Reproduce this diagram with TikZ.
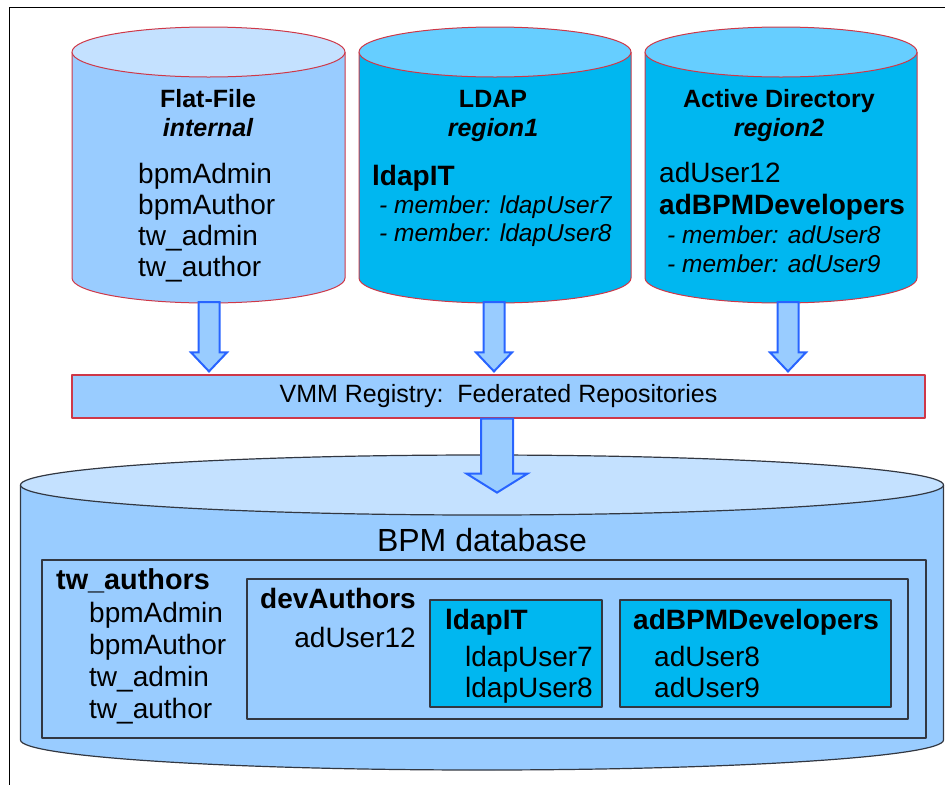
\documentclass[tikz,border=0pt]{standalone}
\usepackage{fontspec}
\setmainfont{Liberation Sans}
\usetikzlibrary{calc, positioning}

\definecolor{redline}{RGB}{206,56,72}
\definecolor{paleblue}{RGB}{153,204,255}
\definecolor{lidpale}{RGB}{196,225,255}
\definecolor{skyblue}{RGB}{0,183,240}
\definecolor{lidsky}{RGB}{102,206,255}
\definecolor{arrowblue}{RGB}{40,100,255}
\definecolor{darkline}{RGB}{50,55,65}

\newcommand{\fsz}[1]{\fontsize{#1}{#1}\selectfont}

% name, centre x, half width, lid y, base y, depth, body fill, lid fill
\newcommand{\dbcyl}[8]{%
  \filldraw[fill=#7] (#2-#3,#4) -- (#2-#3,#5)
    arc[start angle=180, end angle=0, x radius=#3, y radius=#6] -- (#2+#3,#4);
  \filldraw[fill=#8] (#2,#4) ellipse[x radius=#3, y radius=#6];
  \coordinate (#1) at (#2,#5+#6);
}

% from, tip, shaft half width, head half width, head length
\newcommand{\blockarrow}[5]{%
  \draw[barrow] ($(#1)+(-#3,0)$) -- ($(#2)+(-#3,-#5)$) -- ($(#2)+(-#4,-#5)$)
    -- (#2) -- ($(#2)+(#4,-#5)$) -- ($(#2)+(#3,-#5)$) -- ($(#1)+(#3,0)$) -- cycle;
}

\begin{document}
\begin{tikzpicture}[x=1pt, y=-1pt, line join=round,
    ttl/.style={font=\fsz{25}\bfseries, anchor=base, inner sep=0pt},
    sub/.style={font=\fsz{25}\bfseries\itshape, anchor=base, inner sep=0pt},
    itm/.style={font=\fsz{28}, anchor=base west, inner sep=0pt},
    grp/.style={font=\fsz{28}\bfseries, anchor=base west, inner sep=0pt},
    mem/.style={font=\fsz{24.5}\itshape, anchor=base west, inner sep=0pt},
    barrow/.style={fill=paleblue, draw=arrowblue, line width=2pt, line join=miter},
    box/.style={draw=darkline, line width=1.2pt, inner sep=0pt}
  ]
  \useasboundingbox (0,0) rectangle (945,785);
  \draw[line width=1pt] (945,7) -- (9,7) -- (9,785);

  % -- BPM database --
  \begin{scope}[draw=darkline, line width=1.2pt]
    \dbcyl{db}{482}{461.5}{485}{740}{30}{paleblue}{lidpale}
  \end{scope}
  \node[font=\fsz{32}, anchor=base, inner sep=0pt] (dbt) at (482,551) {BPM database};
  \node[box, minimum width=884pt, minimum height=178pt] (twbox) at (484,649) {};
  \node[box, minimum width=661pt, minimum height=140pt] (devbox) at (577.5,649) {};
  \node[box, fill=skyblue, minimum width=172pt, minimum height=107pt] (ldapbox) at (516,653.5) {};
  \node[box, fill=skyblue, minimum width=271pt, minimum height=107pt] (adbox) at (755.5,653.5) {};
  \node[grp, font=\fsz{28.8}\bfseries] (twa) at (56,589) {tw\_authors};
  \foreach \t [count=\i from 0] in {bpmAdmin, bpmAuthor, tw\_admin, tw\_author}
    { \node[itm] (twa\i) at (89,622+32*\i) {\t}; }
  \node[grp] (dev) at (260,608) {devAuthors};
  \node[itm, anchor=base east] (dev0) at (416,647) {adUser12};
  \node[grp] (lit) at (445,629) {ldapIT};
  \foreach \i in {7,8}
    { \node[itm] (lit\i) at (465,666+31*\i-217) {ldapUser\i}; }
  \node[grp] (adg) at (633,629) {adBPMDevelopers};
  \foreach \i in {8,9}
    { \node[itm] (adg\i) at (654,666+31*\i-248) {adUser\i}; }

  % -- source repositories --
  \begin{scope}[draw=redline, line width=1pt]
    \dbcyl{ff}{208.5}{136.5}{52}{278}{25}{paleblue}{lidpale}
    \dbcyl{ldap}{495}{136}{52}{278}{25}{skyblue}{lidsky}
    \dbcyl{ad}{781}{136}{52}{278}{25}{skyblue}{lidsky}
  \end{scope}
  % Flat-File
  \node[ttl] (fft) at (208,107) {Flat-File};
  \node[sub] (ffs) at (208,136) {internal};
  \foreach \t [count=\i from 0] in {bpmAdmin, bpmAuthor, tw\_admin, tw\_author}
    { \node[itm] (ff\i) at (138,183+31*\i) {\t}; }
  % LDAP
  \node[ttl] (ldapt) at (493,107) {LDAP};
  \node[sub] (ldaps) at (493,136) {region1};
  \node[grp] (ldapg) at (372,185) {ldapIT};
  \node[mem] (ldap7) at (379,213) {- member: ldapUser7};
  \node[mem] (ldap8) at (379,241) {- member: ldapUser8};
  % Active Directory
  \node[ttl] (adt) at (779,107) {Active Directory};
  \node[sub] (ads) at (779,136) {region2};
  \node[itm] (adu) at (659,182) {adUser12};
  \node[grp] (adb) at (659,214) {adBPMDevelopers};
  \node[mem] (ad8) at (667,243) {- member: adUser8};
  \node[mem] (ad9) at (667,272) {- member: adUser9};

  % -- registry --
  \node[draw=redline, fill=paleblue, line width=1.2pt, minimum width=853pt,
        minimum height=43pt, font=\fsz{25}, inner sep=0pt] (vmm) at (498.5,396.5)
        {VMM Registry:\ \ Federated Repositories};

  % -- arrows --
  \coordinate (ff-out) at ($(ff)+(0.5,-1)$);
  \coordinate (ldap-out) at ($(ldap)+(-1,-1)$);
  \coordinate (ad-out) at ($(ad)+(7,-1)$);
  \foreach \s in {ff, ldap, ad}{
    \coordinate (\s-in) at ($(\s-out |- vmm.north)+(0,-3)$);
    \blockarrow{\s-out}{\s-in}{10.5}{18}{19}
  }
  \coordinate (vmm-out) at ($(vmm.south)+(-1.5,0)$);
  \coordinate (db-in) at ($(vmm-out)+(0,74)$);
  \blockarrow{vmm-out}{db-in}{16}{30.5}{19}
\end{tikzpicture}
\end{document}
